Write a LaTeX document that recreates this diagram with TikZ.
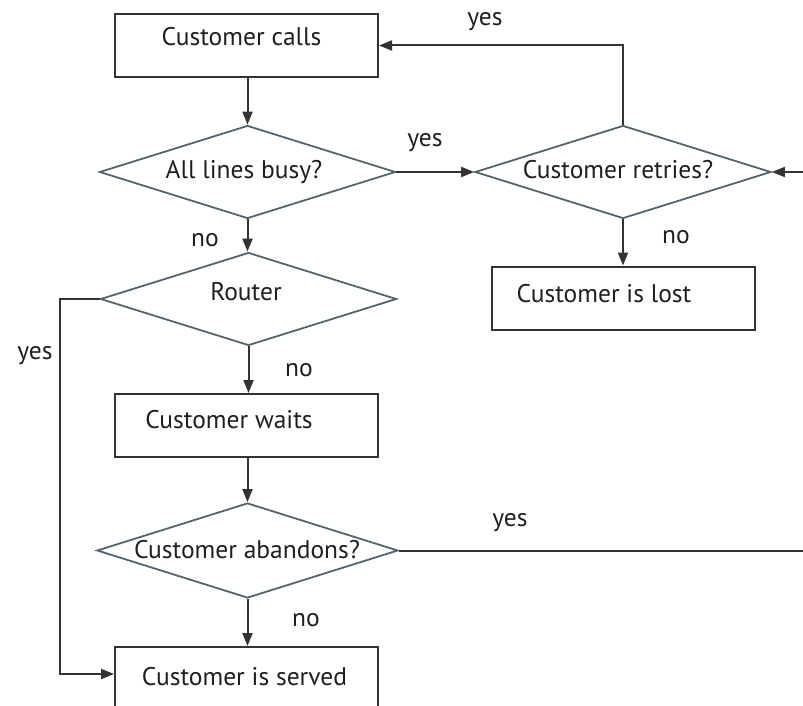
\documentclass[tikz,border=0pt]{standalone}
\usepackage{fontspec}
\setmainfont{PT Sans}
\usetikzlibrary{shapes.geometric,arrows.meta}
\definecolor{ink}{HTML}{333333}
\definecolor{dline}{HTML}{55646A}
\begin{document}
\begin{tikzpicture}[x=1pt,y=-1pt,
  box/.style={draw=ink,line width=2pt,rectangle,minimum width=263pt,minimum height=63pt,inner sep=0pt},
  decision/.style={draw=dline,line width=1.8pt,diamond,minimum width=296pt,minimum height=93pt,inner sep=0pt},
  txt/.style={font=\fontsize{25.5}{29}\selectfont,text=black!88,inner sep=0pt},
  lbl/.style={font=\fontsize{25.5}{29}\selectfont,text=black!88,inner sep=0pt},
  flow/.style={draw=ink,line width=2pt,-{Triangle[length=13pt,width=10pt]}},
  plain/.style={draw=ink,line width=2pt}]
\useasboundingbox (0,0) rectangle (803,706);

% process boxes
\node[box] (calls)  at (246.5,45.5) {};
\node[box] (lost)   at (623.5,298) {};
\node[box] (waits)  at (246.5,425.5) {};
\node[box] (served) at (246.5,678.5) {};

% decisions
\node[decision] (busy)     at (247.5,172) {};
\node[decision] (retries)  at (623,172) {};
\node[decision] (router)   at (248.5,299) {};
\node[decision,minimum width=301pt,minimum height=95pt] (abandons) at (247.5,550.5) {};

% texts
\node[txt] (callsT)    at (241.5,37)  {Customer calls};
\node[txt] (busyT)     at (244,172)   {All lines busy?};
\node[txt] (retriesT)  at (618,170)   {Customer retries?};
\node[txt] (lostT)     at (604,294)   {Customer is lost};
\node[txt] (routerT)   at (246,292)   {Router};
\node[txt] (waitsT)    at (229,420)   {Customer waits};
\node[txt] (abandonsT) at (247,550)   {Customer abandons?};
\node[txt] (servedT)   at (244.5,677) {Customer is served};

% free ends at the right margin
\coordinate (edgeR) at (803,172);
\coordinate (edgeA) at (803,550.5);
\coordinate (leftbus) at (60,299);

% connectors
\draw[flow] (calls.south -| busy.north) -- (busy.north);
\draw[flow] (busy.east) -- (retries.west);
\draw[flow] (retries.north) |- (calls.east);
\draw[flow] (edgeR) -- (retries.east);
\draw[flow] (retries.south) -- (lost.north -| retries.south);
\draw[flow] (busy.south) -- (router.north -| busy.south);
\draw[flow] (router.west) -- (leftbus) -- (leftbus |- 0,674) -- (served.west |- 0,674);
\draw[flow] (router.south) -- (waits.north -| router.south);
\draw[flow] (waits.south -| abandons.north) -- (abandons.north);
\draw[plain] (abandons.east) -- (edgeA);
\draw[flow] (abandons.south) -- (served.north -| abandons.south);

% branch labels
\node[lbl] (l1) at (485,22)  {yes};
\node[lbl] (l2) at (425,143) {yes};
\node[lbl] (l3) at (676,237) {no};
\node[lbl] (l4) at (205,240) {no};
\node[lbl] (l5) at (35,356)  {yes};
\node[lbl] (l6) at (299,370) {no};
\node[lbl] (l7) at (510,523) {yes};
\node[lbl] (l8) at (306,620) {no};
\end{tikzpicture}
\end{document}
